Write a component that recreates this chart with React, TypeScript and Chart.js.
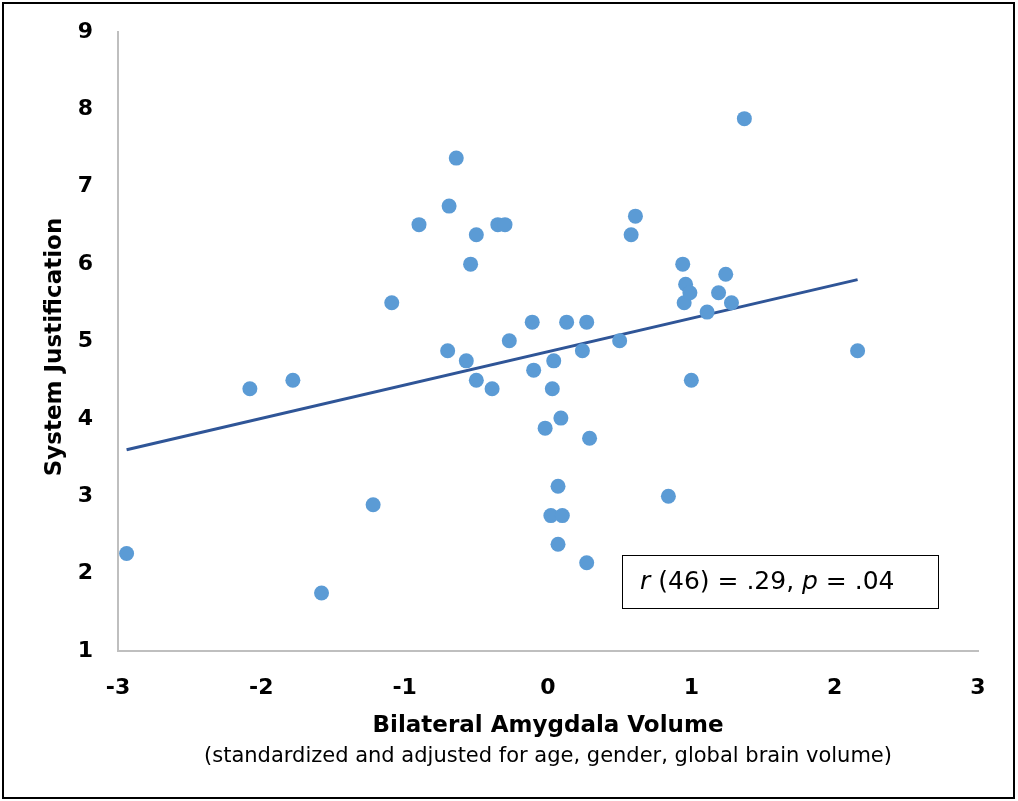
import React, { useEffect, useRef } from "react";
import { Chart, registerables } from "chart.js";

Chart.register(...registerables);

const volumeX = [
  -2.94, -2.08, -1.78, -1.58, -1.22, -1.09, -0.9, -0.7, -0.69, -0.64, -0.57, -0.54,
  -0.5, -0.5, -0.39, -0.35, -0.3, -0.27, -0.11, -0.1, -0.02, 0.02, 0.03, 0.04,
  0.07, 0.07, 0.09, 0.1, 0.13, 0.24, 0.27, 0.27, 0.29, 0.5, 0.58, 0.61,
  0.84, 0.94, 0.96, 0.95, 0.99, 1.0, 1.11, 1.19, 1.24, 1.28, 1.37, 2.16,
];
const justificationY = [
  2.26, 4.39, 4.5, 1.75, 2.89, 5.5, 6.51, 4.88, 6.75, 7.37, 4.75, 6.0,
  6.38, 4.5, 4.39, 6.51, 6.51, 5.01, 5.25, 4.63, 3.88, 2.75, 4.39, 4.75,
  3.13, 2.38, 4.01, 2.75, 5.25, 4.88, 5.25, 2.14, 3.75, 5.01, 6.38, 6.62,
  3.0, 6.0, 5.74, 5.5, 5.63, 4.5, 5.38, 5.63, 5.87, 5.5, 7.88, 4.88,
];
const trendX = [-2.94, 2.16];
const trendY = [3.6, 5.8];
const xTickValues = [-3, -2, -1, 0, 1, 2, 3];
const yTickValues = [1, 2, 3, 4, 5, 6, 7, 8, 9];

const xTitle = "Bilateral Amygdala Volume";
const xSubtitle = "(standardized and adjusted for age, gender, global brain volume)";
const yTitle = "System Justification";
const statParts = [
  { text: "r", italic: true },
  { text: " (46) = .29, ", italic: false },
  { text: "p", italic: true },
  { text: " = .04", italic: false },
];

const FONT = "'DejaVu Sans', sans-serif";

const decorPlugin = {
  id: "decor",
  afterDraw(chart: any) {
    const ctx = chart.ctx as CanvasRenderingContext2D;
    const area = chart.chartArea;
    ctx.save();
    // outer frame
    ctx.strokeStyle = "#000000";
    ctx.lineWidth = 2;
    ctx.strokeRect(3, 3, 1011, 795);

    const cx = (area.left + area.right) / 2;
    ctx.fillStyle = "#000000";
    ctx.textAlign = "center";
    ctx.textBaseline = "middle";
    ctx.font = `bold 23px ${FONT}`;
    ctx.fillText(xTitle, cx, 726);
    ctx.font = `21px ${FONT}`;
    ctx.fillText(xSubtitle, cx, 757);

    // y title
    ctx.save();
    ctx.translate(55, 347);
    ctx.rotate(-Math.PI / 2);
    ctx.font = `bold 23px ${FONT}`;
    ctx.fillText(yTitle, 0, 0);
    ctx.restore();

    // stat box
    ctx.fillStyle = "#ffffff";
    ctx.fillRect(622, 555, 316, 53);
    ctx.strokeStyle = "#000000";
    ctx.lineWidth = 1;
    ctx.strokeRect(622.5, 555.5, 316, 53);
    ctx.fillStyle = "#000000";
    ctx.textAlign = "left";
    let x = 640;
    for (const part of statParts) {
      ctx.font = `${part.italic ? "italic " : ""}25px ${FONT}`;
      ctx.fillText(part.text, x, 582);
      x += ctx.measureText(part.text).width;
    }
    ctx.restore();
  },
};

export default function App() {
  const ref = useRef<HTMLCanvasElement | null>(null);
  useEffect(() => {
    if (!ref.current) return;
    const chart = new Chart(ref.current, {
      type: "scatter",
      data: {
        datasets: [
          {
            type: "line",
            label: "Trend",
            data: trendX.map((x, i) => ({ x, y: trendY[i] })),
            borderColor: "#2F5597",
            borderWidth: 3,
            pointRadius: 0,
            fill: false,
            order: 2,
          } as any,
          {
            label: "Participants",
            data: volumeX.map((x, i) => ({ x, y: justificationY[i] })),
            backgroundColor: "#5B9BD5",
            borderColor: "#5B9BD5",
            borderWidth: 0,
            pointRadius: 7.5,
            order: 1,
          },
        ],
      },
      options: {
        responsive: false,
        animation: false,
        layout: { padding: { left: 0, top: 32, right: 40, bottom: 0 } },
        plugins: {
          legend: { display: false },
          tooltip: { enabled: false },
          title: { display: false },
        },
        scales: {
          x: {
            type: "linear",
            min: -3,
            max: 3,
            afterFit: (s: any) => { s.height = 150; },
            afterBuildTicks: (s: any) => { s.ticks = xTickValues.map((v) => ({ value: v })); },
            grid: { display: false },
            border: { display: true, color: "#BFBFBF", width: 2 },
            ticks: {
              padding: 16,
              color: "#000000",
              font: { family: FONT, size: 22, weight: "bold" },
              maxRotation: 0,
            },
          },
          y: {
            type: "linear",
            min: 1,
            max: 9,
            afterFit: (s: any) => { s.width = 118; },
            afterBuildTicks: (s: any) => { s.ticks = yTickValues.map((v) => ({ value: v })); },
            grid: { display: false },
            border: { display: true, color: "#BFBFBF", width: 2 },
            ticks: {
              padding: 17,
              color: "#000000",
              font: { family: FONT, size: 22, weight: "bold" },
            },
          },
        },
      },
      plugins: [decorPlugin],
    });
    return () => chart.destroy();
  }, []);
  return (
    <div style={{ position: "fixed", left: 0, top: 0, width: 1018, height: 801, background: "#ffffff" }}>
      <canvas ref={ref} width={1018} height={801} style={{ display: "block" }} />
    </div>
  );
}
